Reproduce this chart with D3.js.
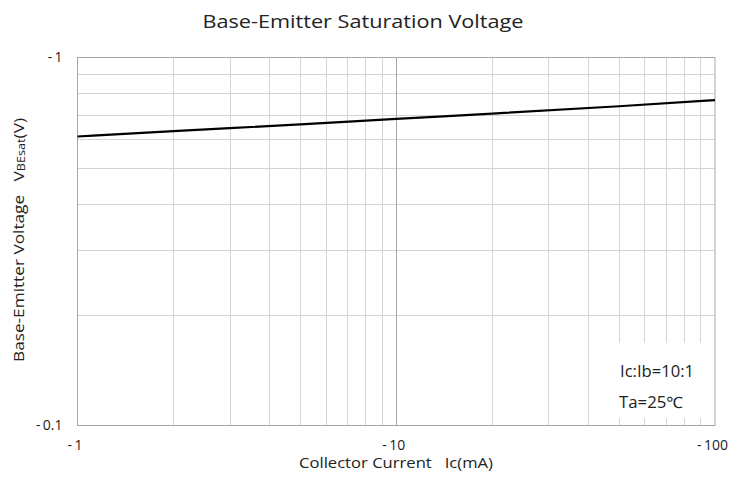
<!DOCTYPE html>
<html><head><meta charset="utf-8">
<script src="https://cdn.jsdelivr.net/npm/d3@7"></script>
<style>body{margin:0;background:#fff}svg{display:block;font-family:"Open Sans","Noto Sans",sans-serif}text{white-space:pre}</style>
</head><body><svg id="c" width="744" height="486"></svg>
<script>
const currentMA = [1, 2, 5, 10, 20, 50, 100];
const vbeSat = [0.61, 0.631, 0.658, 0.681, 0.704, 0.737, 0.766];
const xTickValues = [1, 10, 100];
const xTickLabels = ["-\u20091", "-\u200910", "-\u2009100"];
const yTickValues = [0.1, 1];
const yTickLabels = ["-\u20090.1", "-\u20091"];
const xGrid = [2,3,4,5,6,7,8,9,10,20,30,40,50,60,70,80,90];
const yGrid = [0.2,0.3,0.4,0.5,0.6,0.7,0.8,0.9];

const svg = d3.select("#c");
const L = 77.5, R = 715, T = 57.5, B = 425.5;
const x = d3.scaleLog().domain([1, 100]).range([L, R]);
const y = d3.scaleLog().domain([0.1, 1]).range([B, T]);

const g = svg.append("g");
g.selectAll(".yg").data(yGrid).enter().append("line")
  .attr("x1", L).attr("x2", R).attr("y1", d => Math.round(y(d))+0.5).attr("y2", d => Math.round(y(d))+0.5)
  .attr("stroke", "#d4d4d4").attr("stroke-width", 1);
g.selectAll(".xg").data(xGrid).enter().append("line")
  .attr("y1", T).attr("y2", B).attr("x1", d => Math.round(x(d))+0.5).attr("x2", d => Math.round(x(d))+0.5)
  .attr("stroke", d => d === 10 ? "#a8a8a8" : "#d4d4d4").attr("stroke-width", 1);

// white annotation box covering gridlines
svg.append("rect").attr("x", 596).attr("y", 343).attr("width", 117).attr("height", 75).attr("fill", "#fff");

svg.append("rect").attr("x", L).attr("y", T).attr("width", R - L).attr("height", B - T)
  .attr("fill", "none").attr("stroke", "#a6a6a6").attr("stroke-width", 1);

const line = d3.line().x((d, i) => x(currentMA[i])).y(d => y(d)).curve(d3.curveMonotoneX);
svg.append("path").datum(vbeSat).attr("d", line).attr("fill", "none")
  .attr("stroke", "#000").attr("stroke-width", 2.2);

const xAxis = d3.axisBottom(x).tickValues(xTickValues).tickSize(0).tickPadding(0)
  .tickFormat((d, i) => xTickLabels[i]);
const xa = svg.append("g").attr("transform", `translate(-3,${B})`).call(xAxis);
xa.select(".domain").remove();
xa.selectAll("text").attr("dy", null).attr("y", 24).attr("font-size", 14).attr("fill", "#222")
  .attr("font-family", "Open Sans, sans-serif");

const yAxis = d3.axisLeft(y).tickValues(yTickValues).tickSize(0).tickPadding(0)
  .tickFormat((d, i) => yTickLabels[i]);
const ya = svg.append("g").attr("transform", `translate(${L},0)`).call(yAxis);
ya.select(".domain").remove();
ya.selectAll("text").attr("x", -15).attr("dy", "0.32em").attr("font-size", 14).attr("fill", "#222")
  .attr("font-family", "Open Sans, sans-serif");

svg.append("text").attr("x", 363).attr("y", 28).attr("text-anchor", "middle")
  .attr("font-size", 18).attr("fill", "#222").attr("textLength", 321).attr("lengthAdjust", "spacingAndGlyphs")
  .text("Base-Emitter Saturation Voltage");

svg.append("text").attr("x", 396).attr("y", 468).attr("text-anchor", "middle")
  .attr("font-size", 15).attr("fill", "#222")
  .attr("textLength", 194).attr("lengthAdjust", "spacingAndGlyphs")
  .text("Collector Current   Ic(mA)");

const yl = svg.append("text").attr("transform", "translate(24,240) rotate(-90)")
  .attr("text-anchor", "middle").attr("font-size", 15).attr("fill", "#222")
  .attr("textLength", 244).attr("lengthAdjust", "spacingAndGlyphs");
yl.append("tspan").text("Base-Emitter Voltage   V");
yl.append("tspan").attr("font-size", 11).attr("dy", 1).text("BEsat");
yl.append("tspan").attr("dy", -1).text("(V)");

svg.append("text").attr("x", 620).attr("y", 377).attr("font-size", 15.5).attr("fill", "#222")
  .attr("textLength", 74).attr("lengthAdjust", "spacingAndGlyphs").text("Ic:Ib=10:1");
svg.append("text").attr("x", 619).attr("y", 408).attr("font-size", 15.5).attr("fill", "#222")
  .attr("textLength", 64).attr("lengthAdjust", "spacingAndGlyphs").text("Ta=25℃");
</script></body></html>
